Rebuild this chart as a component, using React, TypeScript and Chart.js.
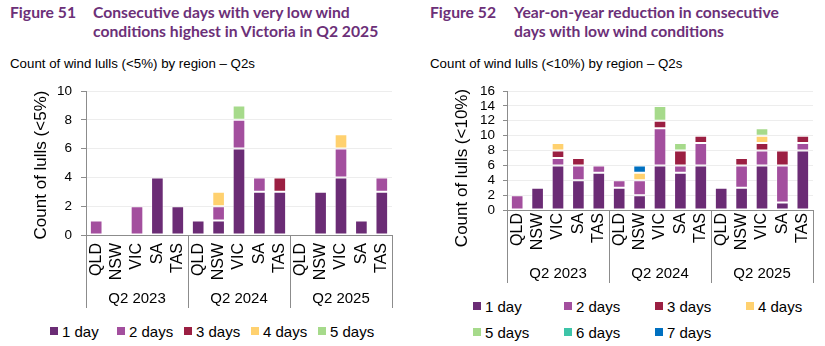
import React, { useEffect, useRef } from 'react';
import { Chart, registerables } from 'chart.js';

Chart.register(...registerables);

// ---------- data ----------
const regions = ['QLD', 'NSW', 'VIC', 'SA', 'TAS'];
const quarters = ['Q2 2023', 'Q2 2024', 'Q2 2025'];
const seriesNames = ['1 day', '2 days', '3 days', '4 days', '5 days', '6 days', '7 days'];
const seriesColors = ['#6B2C75', '#A34F9E', '#9B1F42', '#FFD16F', '#A6DA8B', '#3DC4A8', '#0070C0'];

// Figure 51: count of wind lulls (<5%), order: Q2 2023 QLD..TAS, Q2 2024 QLD..TAS, Q2 2025 QLD..TAS
const lull5_1day = [0, 0, 0, 4, 2, 1, 1, 6, 3, 3, 0, 3, 4, 1, 3];
const lull5_2days = [1, 0, 2, 0, 0, 0, 1, 2, 1, 0, 0, 0, 2, 0, 1];
const lull5_3days = [0, 0, 0, 0, 0, 0, 0, 0, 0, 1, 0, 0, 0, 0, 0];
const lull5_4days = [0, 0, 0, 0, 0, 0, 1, 0, 0, 0, 0, 0, 1, 0, 0];
const lull5_5days = [0, 0, 0, 0, 0, 0, 0, 1, 0, 0, 0, 0, 0, 0, 0];

// Figure 52: count of wind lulls (<10%)
const lull10_1day = [0, 3, 6, 4, 5, 3, 2, 6, 5, 6, 3, 3, 6, 1, 8];
const lull10_2days = [2, 0, 1, 2, 1, 1, 2, 5, 1, 3, 0, 3, 2, 5, 1];
const lull10_3days = [0, 0, 1, 1, 0, 0, 0, 1, 2, 1, 0, 1, 1, 2, 1];
const lull10_4days = [0, 0, 1, 0, 0, 0, 1, 0, 0, 0, 0, 0, 1, 0, 0];
const lull10_5days = [0, 0, 0, 0, 0, 0, 0, 2, 1, 0, 0, 0, 1, 0, 0];
const lull10_6days = [0, 0, 0, 0, 0, 0, 0, 0, 0, 0, 0, 0, 0, 0, 0];
const lull10_7days = [0, 0, 0, 0, 0, 0, 1, 0, 0, 0, 0, 0, 0, 0, 0];

const yMax5 = 10;
const yMax10 = 16;
const yStep = 2;

const series5 = [lull5_1day, lull5_2days, lull5_3days, lull5_4days, lull5_5days];
const series10 = [lull10_1day, lull10_2days, lull10_3days, lull10_4days, lull10_5days, lull10_6days, lull10_7days];

const categories = quarters.flatMap(() => regions);

const FONT = "Arial, 'Liberation Sans', sans-serif";
const TITLE_COLOR = '#6C3078';
const AXIS_COLOR = '#8C8C8C';

const groupPlugin = {
  id: 'groupAxis',
  afterDraw(chart: any, _args: any, opts: any) {
    const xs = chart.scales.x;
    const { left, right, bottom } = chart.chartArea;
    const ctx = chart.ctx;
    const groups: string[] = opts.groups;
    const size: number = opts.groupSize;
    const n = groups.length;
    ctx.save();
    ctx.strokeStyle = AXIS_COLOR;
    ctx.lineWidth = 1;
    for (let g = 0; g <= n; g++) {
      let px: number;
      if (g === 0) px = left;
      else if (g === n) px = right;
      else px = (xs.getPixelForValue(g * size - 1) + xs.getPixelForValue(g * size)) / 2;
      px = Math.round(px) + 0.5;
      ctx.beginPath();
      ctx.moveTo(px, bottom);
      ctx.lineTo(px, opts.lineBottom);
      ctx.stroke();
    }
    ctx.fillStyle = '#000';
    ctx.font = `${opts.fontSize}px ${FONT}`;
    ctx.textAlign = 'center';
    ctx.textBaseline = 'middle';
    for (let g = 0; g < n; g++) {
      const cx = (xs.getPixelForValue(g * size) + xs.getPixelForValue(g * size + size - 1)) / 2;
      ctx.fillText(groups[g], cx, opts.labelY);
    }
    // y-axis title
    ctx.translate(opts.yTitleX, opts.yTitleY);
    ctx.rotate(-Math.PI / 2);
    ctx.font = `${opts.yTitleSize}px ${FONT}`;
    ctx.fillText(opts.yTitle, 0, 0);
    ctx.restore();
  },
};

type Geo = {
  left: number;
  top: number;
  width: number;
  height: number;
  areaLeft: number;
  areaRight: number;
  areaTop: number;
  areaBottom: number;
  labelPad: number;
  titleX: number;
  titleY: number;
  tickLen: number;
  tickPad: number;
  groupLabelY: number;
  sepBottom: number;
};

function StackedChart({ series, max, yTitle, geo }: { series: number[][]; max: number; yTitle: string; geo: Geo }) {
  const ref = useRef<HTMLCanvasElement>(null);
  useEffect(() => {
    if (!ref.current) return;
    const chart = new Chart(ref.current, {
      type: 'bar',
      data: {
        labels: categories,
        datasets: series.map((vals, i) => ({
          label: seriesNames[i],
          data: vals.map((v) => (v === 0 ? null : v)),
          backgroundColor: seriesColors[i],
          borderColor: 'rgba(255,255,255,0.45)',
          borderWidth: 1,
          borderSkipped: false,
          categoryPercentage: 1,
          barPercentage: 0.62,
        })),
      },
      options: {
        responsive: false,
        animation: false,
        devicePixelRatio: 1,
        layout: {
          padding: { left: 0, top: geo.areaTop, right: geo.width - geo.areaRight, bottom: 0 },
        },
        plugins: {
          legend: { display: false },
          tooltip: { enabled: false },
          groupAxis: {
            groups: quarters,
            groupSize: regions.length,
            labelY: geo.groupLabelY,
            lineBottom: geo.sepBottom,
            fontSize: 15,
            yTitle,
            yTitleX: geo.titleX,
            yTitleY: geo.titleY,
            yTitleSize: 17,
          },
        } as any,
        scales: {
          x: {
            stacked: true,
            offset: true,
            grid: { display: false, drawTicks: false },
            border: { display: true, color: AXIS_COLOR, width: 1 },
            ticks: {
              autoSkip: false,
              minRotation: 90,
              maxRotation: 90,
              padding: geo.labelPad,
              color: '#000',
              font: { family: FONT, size: 16 },
            },
            afterFit(scale: any) {
              scale.height = geo.height - geo.areaBottom;
              scale.paddingLeft = 0;
              scale.paddingRight = 0;
            },
          },
          y: {
            stacked: true,
            min: 0,
            max,
            ticks: {
              stepSize: yStep,
              autoSkip: false,
              color: '#000',
              padding: geo.tickPad,
              font: { family: FONT, size: 13.5, lineHeight: 1 },
            },
            grid: {
              color: '#EDEDED',
              tickColor: AXIS_COLOR,
              tickLength: geo.tickLen,
              drawTicks: true,
            },
            border: { display: true, color: AXIS_COLOR, width: 1 },
            title: { display: false },
            afterFit(scale: any) {
              scale.width = geo.areaLeft;
              scale.paddingTop = 0;
              scale.paddingBottom = 0;
            },
          },
        },
      },
      plugins: [groupPlugin as any],
    });
    return () => chart.destroy();
  }, []);
  return (
    <canvas
      ref={ref}
      width={geo.width}
      height={geo.height}
      style={{ position: 'absolute', left: geo.left, top: geo.top, width: geo.width, height: geo.height }}
    />
  );
}

function Legend({ count, left, cy, spacing, rowGap, perRow }: { count: number; left: number; cy: number; spacing: number; rowGap: number; perRow: number }) {
  const items = [];
  for (let i = 0; i < count; i++) {
    const x = left + (i % perRow) * spacing;
    const y = cy + Math.floor(i / perRow) * rowGap;
    items.push(
      <div
        key={i}
        style={{
          position: 'absolute',
          left: x,
          top: y - 10,
          height: 20,
          display: 'flex',
          alignItems: 'center',
          whiteSpace: 'nowrap',
          fontFamily: FONT,
          fontSize: 15,
          color: '#000',
        }}
      >
        <span style={{ display: 'inline-block', width: 8, height: 8, background: seriesColors[i] }} />
        <span style={{ marginLeft: 4 }}>{seriesNames[i]}</span>
      </div>
    );
  }
  return <>{items}</>;
}

function Heading({ left, textLeft, fig, lines, sub }: { left: number; textLeft: number; fig: string; lines: string[]; sub: string }) {
  const tstyle: React.CSSProperties = {
    position: 'absolute',
    top: 3,
    fontFamily: "Lato, 'DejaVu Sans', sans-serif",
    fontWeight: 700,
    fontSize: 15.7,
    lineHeight: '18.5px',
    color: TITLE_COLOR,
    whiteSpace: 'nowrap',
  };
  return (
    <>
      <div style={{ ...tstyle, left }}>{fig}</div>
      <div style={{ ...tstyle, left: textLeft }}>
        {lines.map((l, i) => (
          <div key={i}>{l}</div>
        ))}
      </div>
      <div
        style={{
          position: 'absolute',
          left,
          top: 56,
          fontFamily: FONT,
          fontSize: 13.3,
          lineHeight: '15px',
          color: '#000',
          whiteSpace: 'nowrap',
        }}
      >
        {sub}
      </div>
    </>
  );
}

const geoLeft: Geo = {
  left: 0, top: 80, width: 412, height: 232,
  areaLeft: 86, areaRight: 392, areaTop: 11, areaBottom: 155,
  labelPad: 8, titleX: 41, titleY: 85, tickLen: 5, tickPad: 9,
  groupLabelY: 219, sepBottom: 228,
};

const geoRight: Geo = {
  left: 412, top: 80, width: 413, height: 206,
  areaLeft: 95, areaRight: 401, areaTop: 11, areaBottom: 130,
  labelPad: 3, titleX: 50, titleY: 88, tickLen: 4, tickPad: 8,
  groupLabelY: 194, sepBottom: 203,
};

export default function App() {
  return (
    <div style={{ position: 'absolute', left: 0, top: 0, width: 825, height: 346, background: '#fff', overflow: 'hidden' }}>
      <Heading
        left={10}
        textLeft={93}
        fig="Figure 51"
        lines={['Consecutive days with very low wind', 'conditions highest in Victoria in Q2 2025']}
        sub="Count of wind lulls (<5%) by region – Q2s"
      />
      <Heading
        left={430}
        textLeft={514}
        fig="Figure 52"
        lines={['Year-on-year reduction in consecutive', 'days with low wind conditions']}
        sub="Count of wind lulls (<10%) by region – Q2s"
      />
      <StackedChart series={series5} max={yMax5} yTitle="Count of lulls (<5%)" geo={geoLeft} />
      <StackedChart series={series10} max={yMax10} yTitle="Count of lulls (<10%)" geo={geoRight} />
      <Legend count={series5.length} left={50} cy={331} spacing={67} rowGap={0} perRow={5} />
      <Legend count={series10.length} left={473} cy={306} spacing={91} rowGap={26} perRow={4} />
    </div>
  );
}
